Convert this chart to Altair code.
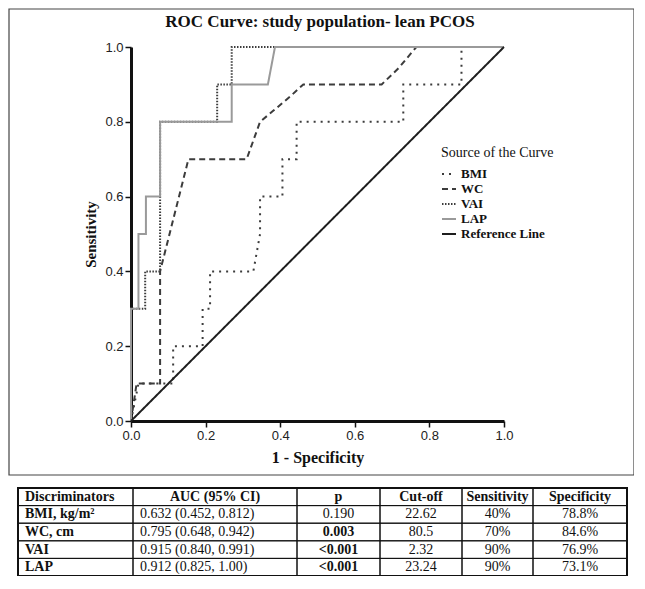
import altair as alt
import pandas as pd

# ---------------- ROC curve data ----------------
series_names = ["BMI", "WC", "VAI", "LAP", "Reference Line"]

bmi_x = [0, 0.01, 0.02, 0.113, 0.113, 0.192, 0.192, 0.212, 0.212, 0.328, 0.346, 0.346,
         0.406, 0.406, 0.444, 0.444, 0.73, 0.73, 0.886, 0.886, 1.0]
bmi_y = [0, 0.05, 0.1, 0.1, 0.2, 0.2, 0.3, 0.3, 0.4, 0.4, 0.5, 0.6,
         0.6, 0.7, 0.7, 0.8, 0.8, 0.9, 0.9, 1.0, 1.0]

wc_x = [0, 0.015, 0.078, 0.078, 0.154, 0.31, 0.346, 0.382, 0.426, 0.462, 0.672, 0.717, 0.765, 1.0]
wc_y = [0, 0.1, 0.1, 0.4, 0.7, 0.7, 0.8, 0.83, 0.867, 0.9, 0.9, 0.943, 1.0, 1.0]

vai_x = [0, 0, 0.038, 0.038, 0.078, 0.078, 0.231, 0.231, 0.27, 0.27, 1.0]
vai_y = [0, 0.3, 0.3, 0.4, 0.4, 0.8, 0.8, 0.9, 0.9, 1.0, 1.0]

lap_x = [0, 0, 0.02, 0.02, 0.04, 0.04, 0.078, 0.078, 0.27, 0.27, 0.367, 0.386, 1.0]
lap_y = [0, 0.3, 0.3, 0.5, 0.5, 0.6, 0.6, 0.8, 0.8, 0.9, 0.9, 1.0, 1.0]

ref_x = [0, 1]
ref_y = [0, 1]

axis_ticks = [0.0, 0.2, 0.4, 0.6, 0.8, 1.0]
chart_title = ["ROC Curve: study population- lean PCOS"]

# ---------------- table data ----------------
headers = ["Discriminators", "AUC (95% CI)", "p", "Cut-off", "Sensitivity", "Specificity"]
discriminators = ["BMI, kg/m\u00b2", "WC, cm", "VAI", "LAP"]
auc_ci = ["0.632 (0.452, 0.812)", "0.795 (0.648, 0.942)", "0.915 (0.840, 0.991)", "0.912 (0.825, 1.00)"]
p_values = ["0.190", "0.003", "<0.001", "<0.001"]
p_bold = [False, True, True, True]
cutoffs = ["22.62", "80.5", "2.32", "23.24"]
sensitivity = ["40%", "70%", "90%", "90%"]
specificity = ["78.8%", "84.6%", "76.9%", "73.1%"]

# ---------------- styles / layout ----------------
line_colors = ["#3c3c3c", "#3c3c3c", "#3c3c3c", "#9a9a9a", "#1e1e1e"]
line_dashes = [[2, 5], [6, 4], [1.5, 1.5], [1, 0], [1, 0]]
col_widths = [115, 164, 83, 82, 71, 94]   # table column widths (layout)
SERIF = "Liberation Serif"
SANS = "Liberation Sans"

# ---------------- build frames ----------------
rows = []
for name, xs, ys in zip(series_names, [bmi_x, wc_x, vai_x, lap_x, ref_x],
                        [bmi_y, wc_y, vai_y, lap_y, ref_y]):
    for i, (a, b) in enumerate(zip(xs, ys)):
        rows.append({"series": name, "fpr": a, "tpr": b, "idx": i})
roc_df = pd.DataFrame(rows)

edges = [0]
for w in col_widths:
    edges.append(edges[-1] + w)
n_rows = len(discriminators) + 1

body_cols = [discriminators, auc_ci, p_values, cutoffs, sensitivity, specificity]
cells = []
texts = []
for r in range(n_rows):
    for c in range(len(headers)):
        cells.append({"x0": edges[c], "x1": edges[c + 1], "y0": r, "y1": r + 1})
        if r == 0:
            label = headers[c]
            bold = True
            left = False
        else:
            label = body_cols[c][r - 1]
            bold = (c == 0) or (c == 2 and p_bold[r - 1])
            left = c in (0, 1)
        if c == 0:
            left = True
        xpos = edges[c] + 7 if left else (edges[c] + edges[c + 1]) / 2
        texts.append({"tx": xpos, "ty": r + 0.5, "label": label,
                      "bold": bold, "left": left})
cells_df = pd.DataFrame(cells)
text_df = pd.DataFrame(texts)
outer_df = pd.DataFrame([{"x0": edges[0], "x1": edges[-1], "y0": 0, "y1": n_rows}])

# ---------------- ROC chart ----------------
xscale = alt.Scale(domain=[0, 1], nice=False, zero=False)
yscale = alt.Scale(domain=[0, 1], nice=False, zero=False)
legend = alt.Legend(
    title="Source of the Curve", orient="none", legendX=310, legendY=99,
    titleFont=SERIF, titleFontWeight="normal", titleFontSize=14, titleColor="#111",
    labelFont=SERIF, labelFontWeight="bold", labelFontSize=13, labelColor="#111",
    symbolType="stroke", symbolStrokeWidth=2, symbolSize=196, rowPadding=0,
    labelOffset=4, titlePadding=6, padding=0,
)

roc = alt.Chart(roc_df).mark_line(strokeWidth=2).encode(
    x=alt.X("fpr:Q", scale=xscale,
            axis=alt.Axis(values=axis_ticks, format=".1f", title="1 - Specificity",
                          domainWidth=3, domainColor="#111", tickColor="#111",
                          tickSize=6, tickWidth=1.5, labelFont=SANS, labelFontSize=13,
                          labelColor="#222", labelPadding=2, grid=False, labelFlush=False,
                          titleFont=SERIF, titleFontSize=16, titleFontWeight="bold",
                          titleColor="#111", titlePadding=7)),
    y=alt.Y("tpr:Q", scale=yscale,
            axis=alt.Axis(values=axis_ticks, format=".1f", title="Sensitivity",
                          domainWidth=3, domainColor="#111", tickColor="#111",
                          tickSize=6, tickWidth=1.5, labelFont=SANS, labelFontSize=13,
                          labelColor="#222", labelPadding=2, grid=False, labelFlush=False,
                          titleFont=SERIF, titleFontSize=15, titleFontWeight="bold",
                          titleColor="#111", titlePadding=6)),
    color=alt.Color("series:N", scale=alt.Scale(domain=series_names, range=line_colors),
                    legend=legend),
    strokeDash=alt.StrokeDash("series:N",
                              scale=alt.Scale(domain=series_names, range=line_dashes),
                              legend=legend),
    order="idx:Q",
)

# ---------------- table ----------------
tx = alt.Scale(domain=[0, edges[-1]], range=[-113, 496], nice=False, zero=False)
ty = alt.Scale(domain=[0, n_rows], range=[441, 529], nice=False, zero=False)

grid = alt.Chart(cells_df).mark_rect(filled=False, stroke="#111", strokeWidth=1).encode(
    x=alt.X("x0:Q", scale=tx, axis=None), x2="x1:Q",
    y=alt.Y("y0:Q", scale=ty, axis=None), y2="y1:Q",
)
outer = alt.Chart(outer_df).mark_rect(filled=False, stroke="#111", strokeWidth=2).encode(
    x=alt.X("x0:Q", scale=tx, axis=None), x2="x1:Q",
    y=alt.Y("y0:Q", scale=ty, axis=None), y2="y1:Q",
)


def text_layer(bold, left):
    return alt.Chart(text_df).transform_filter(
        (alt.datum.bold == bold) & (alt.datum.left == left)
    ).mark_text(
        font=SERIF, fontSize=14, fontWeight="bold" if bold else "normal",
        align="left" if left else "center", baseline="middle", color="#111",
    ).encode(
        x=alt.X("tx:Q", scale=tx, axis=None),
        y=alt.Y("ty:Q", scale=ty, axis=None),
        text="label:N",
    )


table = alt.layer(grid, outer, text_layer(True, True), text_layer(False, True),
                  text_layer(True, False), text_layer(False, False))

frame = alt.Chart(pd.DataFrame({"k": [0]})).mark_rect(
    filled=False, stroke="#444", strokeWidth=1.2
).encode(x=alt.value(-122), x2=alt.value(503), y=alt.value(-38), y2=alt.value(428))

title_mark = alt.Chart(pd.DataFrame({"t": chart_title})).mark_text(
    font=SERIF, fontSize=17, fontWeight="bold", color="#111",
    align="center", baseline="middle",
).encode(x=alt.value(189), y=alt.value(-25), text="t:N")

chart = alt.layer(frame, title_mark, roc, table).resolve_scale(
    x="independent", y="independent"
).properties(
    width=373, height=374,
    autosize=alt.AutoSizeParams(type="none"),
    padding={"left": 123, "top": 39, "right": 130, "bottom": 155},
).configure_view(stroke=None)

chart.save("out.html", embed_options={"renderer": "svg", "actions": False})
